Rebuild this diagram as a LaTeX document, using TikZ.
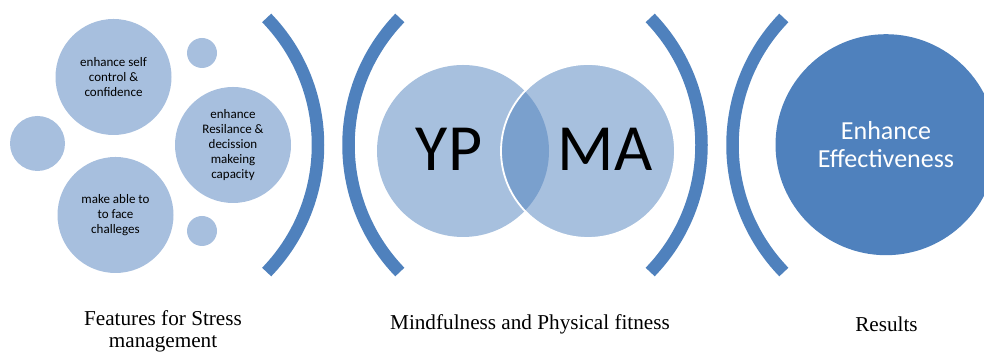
\documentclass[tikz,border=0pt]{standalone}
\usepackage{fontspec}
\setmainfont{Liberation Serif}
\newfontfamily\carlitofont{Carlito}
\definecolor{accent}{HTML}{4F81BD}
\definecolor{tint}{HTML}{A7BFDE}
\begin{document}
\begin{tikzpicture}[x=1pt,y=1pt,
  feature/.style={circle,fill=tint,inner sep=0pt,align=center,
    font=\carlitofont\fontsize{13}{15}\selectfont,text=black},
  dot/.style={circle,fill=tint,inner sep=0pt},
  venn/.style={circle,fill=accent,fill opacity=0.5,text opacity=1,inner sep=0pt},
  bracketline/.style={draw=accent,line width=12.5pt},
  caption/.style={font=\fontsize{21.2}{21.7}\selectfont,align=center,inner sep=0pt}]
\useasboundingbox (0,0) rectangle (984,352);
\clip (0,0) rectangle (984,352);

% stress management features
\node[feature,minimum size=116pt] (self) at (113.5,275) {enhance self\\control \&\\confidence};
\node[dot,minimum size=55pt] (left) at (37.5,208.5) {};
\node[feature,minimum size=116pt] (resil) at (233,207) {enhance\\Resilance \&\\decission\\makeing\\capacity};
\node[feature,minimum size=116pt] (face) at (115.5,137) {make able to\\to face\\challeges};
\node[dot,minimum size=30pt] (dtop) at (202,299) {};
\node[dot,minimum size=30pt] (dbot) at (202,121) {};

% bracket arcs, radius 182.9
\draw[bracketline] (135.1,207) ++(44:182.9) arc (44:-44:182.9);
\draw[bracketline] (531.4,207) ++(136:182.9) arc (136:224:182.9);
\draw[bracketline] (518.6,207) ++(44:182.9) arc (44:-44:182.9);
\draw[bracketline] (915.4,207) ++(136:182.9) arc (136:224:182.9);

% mindfulness and physical fitness
\node[venn,minimum size=172pt] (yp) at (463,201) {};
\node[venn,minimum size=174pt,draw=white,draw opacity=1,line width=1.8pt] (ma) at (588,201) {};
\node[font=\carlitofont\fontsize{66}{66}\selectfont,anchor=base,inner sep=0pt] (yptext) at (449,181.3) {YP};
\node[font=\carlitofont\fontsize{66}{66}\selectfont,anchor=base,inner sep=0pt] (matext) at (605,181.3) {MA};

% result
\node[circle,fill=accent,minimum size=221pt,inner sep=0pt,text=white,align=center,
  font=\carlitofont\fontsize{26}{28.4}\selectfont] (result) at (886,207.3) {Enhance\\Effectiveness};

% captions (base anchor sits on the last line)
\node[caption,anchor=base] (cap1) at (163,4.3) {Features for Stress\\management};
\node[caption,anchor=base] (cap2) at (530,22) {Mindfulness and Physical fitness};
\node[caption,anchor=base] (cap3) at (886.5,20.3) {Results};
\end{tikzpicture}
\end{document}
